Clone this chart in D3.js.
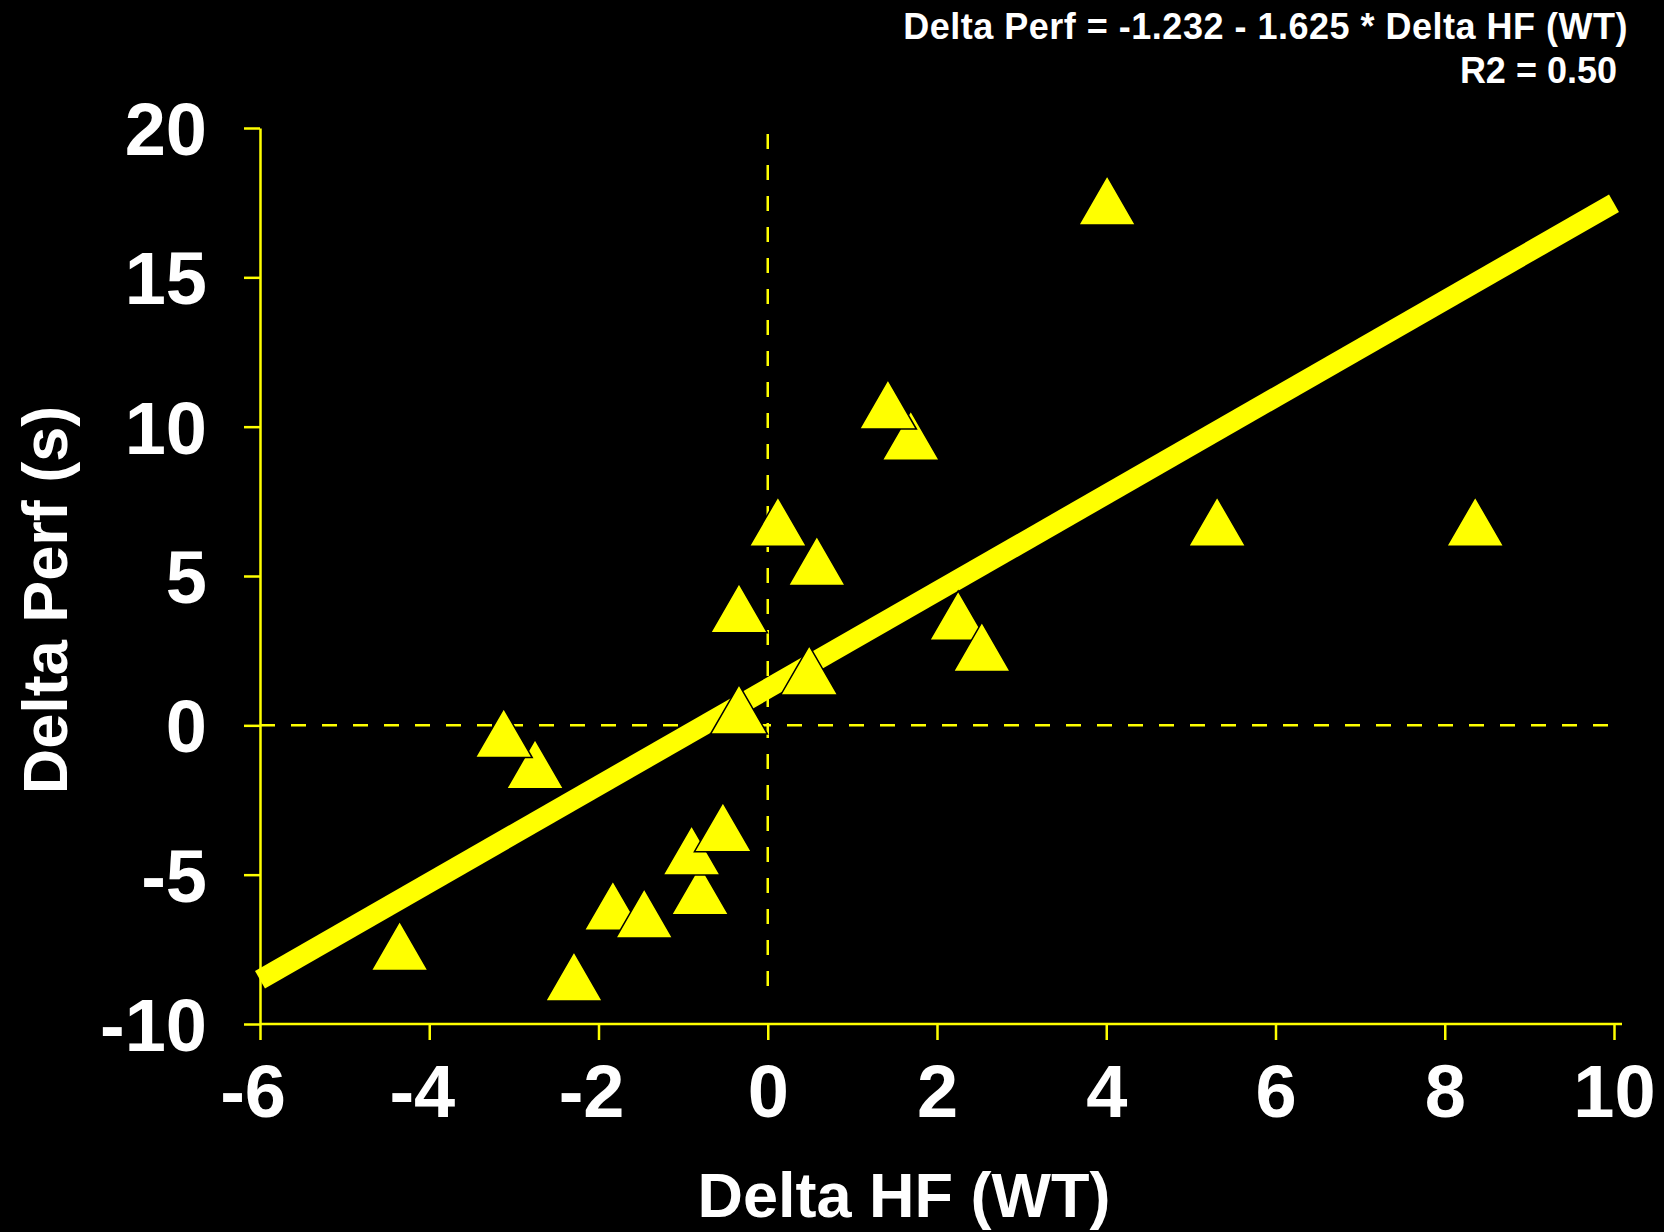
<!DOCTYPE html>
<html>
<head>
<meta charset="utf-8">
<script src="https://cdn.jsdelivr.net/npm/d3@7"></script>
<style>
  html, body { margin: 0; padding: 0; background: #000; }
  svg { display: block; }
  text { font-family: "Liberation Sans", Arial, Helvetica, sans-serif; font-weight: bold; fill: #fff; }
</style>
</head>
<body>
<script>
// Change in HF (WT) against change in performance, one triangle per subject
const deltaHF   = [4.01, 1.69, 1.42, 0.12, 0.58, 5.31, 8.36, -0.34, 2.25, 2.53, 0.49, -0.34,
                   -2.75, -3.12, -0.80, -0.90, -0.53, -1.83, -1.46, -4.35, -2.29];
const deltaPerf = [17.30, 9.43, 10.47, 6.55, 5.23, 6.55, 6.55, 3.65, 3.40, 2.35, 1.57, 0.26,
                   -1.57, -0.53, -5.79, -4.46, -3.68, -6.31, -6.57, -7.66, -8.68];

// Axis ticks
const xTicks = [-6, -4, -2, 0, 2, 4, 6, 8, 10];
const yTicks = [-10, -5, 0, 5, 10, 15, 20];

// Fit coefficients as printed; the perf axis is drawn with the opposite sign
const fitIntercept = -1.232;
const fitSlope = -1.625;
const fitR2 = 0.50;
const fitRange = [-6, 10];

// Zero reference lines (extent in data units)
const zeroLineXRange = [-6, 10];
const zeroLineYRange = [-9.0, 19.8];

const W = 1664, H = 1232;
const YELLOW = "#ffff00";

const svg = d3.select("body").append("svg")
  .attr("width", W).attr("height", H)
  .style("background", "#000");

const x = d3.scaleLinear().domain([-6, 10]).range([260, 1614]);
const y = d3.scaleLinear().domain([-10, 20]).range([1024, 128]);

// plain hyphen for negative numbers
const fmt = d => String(d);

// Axes
const xAxis = svg.append("g")
  .attr("transform", `translate(0,${y(-10)})`)
  .call(d3.axisBottom(x).tickValues(xTicks).tickSize(16).tickSizeOuter(0).tickPadding(24)
        .tickFormat(fmt));
const yAxis = svg.append("g")
  .attr("transform", `translate(${x(-6)},0)`)
  .call(d3.axisLeft(y).tickValues(yTicks).tickSize(16).tickSizeOuter(0).tickPadding(37)
        .tickFormat(fmt));

[xAxis, yAxis].forEach(g => {
  g.select(".domain").attr("stroke", YELLOW).attr("stroke-width", 2.5);
  g.selectAll(".tick line").attr("stroke", YELLOW).attr("stroke-width", 2.5);
  g.selectAll(".tick text")
    .attr("fill", "#fff")
    .style("font-size", "74px")
    .style("font-family", "'Liberation Sans', Arial, sans-serif")
    .style("font-weight", "bold");
});
// extend the x axis line a little past the last tick
xAxis.select(".domain").attr("d", `M${x(-6)},0H${x(10) + 8}`);
yAxis.selectAll(".tick text").attr("dy", "0.36em");
xAxis.selectAll(".tick text")
  .attr("dx", d => d < 0 ? "-0.1em" : "0");

// Dashed zero lines
svg.append("line")
  .attr("x1", x(zeroLineXRange[0])).attr("x2", x(zeroLineXRange[1]))
  .attr("y1", y(0)).attr("y2", y(0))
  .attr("stroke", YELLOW).attr("stroke-width", 2.5).attr("stroke-dasharray", "15 16");
svg.append("line")
  .attr("x1", x(0)).attr("x2", x(0))
  .attr("y1", y(zeroLineYRange[1])).attr("y2", y(zeroLineYRange[0]))
  .attr("stroke", YELLOW).attr("stroke-width", 2.5).attr("stroke-dasharray", "15 16");

// Regression line
const fit = v => -(fitIntercept + fitSlope * v);
svg.append("path")
  .datum(fitRange)
  .attr("d", d3.line().x(v => x(v)).y(v => y(fit(v))))
  .attr("fill", "none")
  .attr("stroke", YELLOW)
  .attr("stroke-width", 20)
  .attr("stroke-linecap", "butt");

// Data points
const tri = d3.symbol().type(d3.symbolTriangle).size(1406);
svg.append("g").selectAll("path")
  .data(deltaHF.map((v, i) => [v, deltaPerf[i]]))
  .join("path")
  .attr("transform", d => `translate(${x(d[0])},${y(d[1])})`)
  .attr("d", tri)
  .attr("fill", YELLOW)
  .attr("stroke", "#000")
  .attr("stroke-width", 1.5);

// Axis titles
svg.append("text")
  .attr("x", 904).attr("y", 1217)
  .attr("text-anchor", "middle")
  .style("font-size", "63px")
  .text("Delta HF (WT)");
svg.append("text")
  .attr("transform", "translate(67,600) rotate(-90)")
  .attr("text-anchor", "middle")
  .style("font-size", "63px")
  .text("Delta Perf (s)");

// Fit annotation
svg.append("text")
  .attr("x", 1628).attr("y", 39)
  .attr("text-anchor", "end")
  .style("font-size", "36px")
  .style("letter-spacing", "0.5px")
  .text(`Delta Perf = ${fitIntercept.toFixed(3)} - ${Math.abs(fitSlope).toFixed(3)} * Delta HF (WT)`);
svg.append("text")
  .attr("x", 1617).attr("y", 83)
  .attr("text-anchor", "end")
  .style("font-size", "36px")
  .text(`R2 = ${fitR2.toFixed(2)}`);
</script>
</body>
</html>
